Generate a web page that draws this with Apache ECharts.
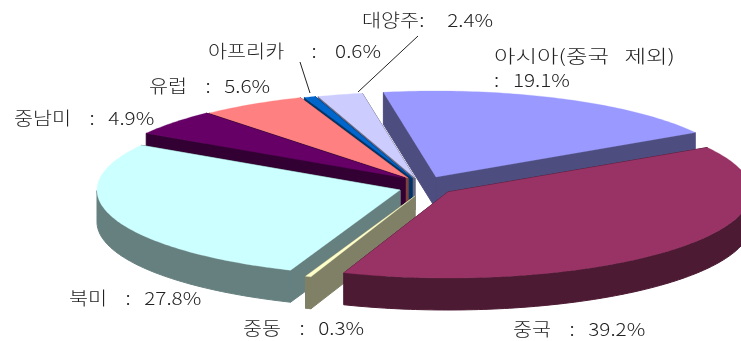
<!DOCTYPE html>
<html><head><meta charset="utf-8">
<style>html,body{margin:0;padding:0;background:#fff}#c{width:741px;height:341px}</style>
<script src="https://cdn.jsdelivr.net/npm/echarts@6/dist/echarts.min.js"></script>
</head><body><div id="c"></div>
<script>
const regions = ['아시아(중국 제외)','중국','중동','북미','중남미','유럽','아프리카','대양주'];
const shares  = [19.1,39.2,0.3,27.8,4.9,5.6,0.6,2.4];
const labelLines = [
  ['아시아(중국 제외)',': 19.1%'],['중국 : 39.2%'],['중동 : 0.3%'],['북미 : 27.8%'],
  ['중남미 : 4.9%'],['유럽 : 5.6%'],['아프리카 : 0.6%'],['대양주: 2.4%']
];
const topColors  = ['#9999FF','#993366','#FFFFCC','#CCFFFF','#660066','#FF8080','#0066CC','#CCCCFF'];
const sideColors = ['#4D4D80','#4D1A33','#808066','#668080','#330033','#804040','#003366','#666680'];
// layout (pixels): apex of every exploded slice, label anchors, leaders
const apex = [[436,177],[448,192],[415,196],[400,190],[405,178],[408,178],[412,178],[415,178]];
const labelPos = [[494,56],[513,329],[243,328],[69,298],[14,118],[149,86],[208,51],[362,20]];
const leaders = {6:[[300,62],[310,93]],7:[[418,36],[358,92]]};
const drawOrder = [7,6,5,4,0,3,2,1];
const RX=303, RY=86, DEPTH=32, START=-10, TEXT_STRETCH=1.15, HEAD_STRETCH=1.3;

const total = shares.reduce((a,b)=>a+b,0);
const starts=[]; let acc=START;
shares.forEach(s=>{starts.push(acc); acc+=s/total*360;});
function pt(i,deg){const r=deg*Math.PI/180;return [apex[i][0]+RX*Math.sin(r),apex[i][1]-RY*Math.cos(r)];}
const down=p=>[p[0],p[1]+DEPTH];
function poly(points,fill){return {type:'polygon',shape:{points},style:{fill,stroke:fill,lineWidth:1}};}
function spaced(t){
  if(t.indexOf('아프리카')===0) return t.replace(' : ','      :    ');
  if(t.indexOf(' : ')>=0) return t.replace(' : ','    :   ');
  if(t.indexOf(': ')===0) return t.replace(': ',':   ');
  if(t.indexOf(': ')>0) return t.replace(': ',':     ');
  return t.replace(' 제외','   제외');
}

function renderItem(params,api){
  const i=api.value(0), a0=starts[i], a1=a0+api.value(1)/total*360;
  const arc=[]; const n=Math.max(2,Math.ceil((a1-a0)));
  for(let k=0;k<=n;k++) arc.push(a0+(a1-a0)*k/n);
  const arcPts=arc.map(a=>pt(i,a));
  const A=apex[i], ch=[];
  [arcPts[0],arcPts[arcPts.length-1]].forEach(p=>ch.push(poly([A,p,down(p),down(A)],sideColors[i])));
  const front=arc.filter(a=>{const m=((a%360)+360)%360;return m>=90&&m<=270;}).map(a=>pt(i,a));
  if(front.length>1) ch.push(poly(front.concat(front.slice().reverse().map(down)),sideColors[i]));
  const top=poly([A].concat(arcPts),topColors[i]); top.style.lineWidth=0.3; ch.push(top);
  if(leaders[i]) ch.push({type:'line',shape:{x1:leaders[i][0][0],y1:leaders[i][0][1],x2:leaders[i][1][0],y2:leaders[i][1][1]},style:{stroke:'#222',lineWidth:1}});
  labelLines[i].forEach((t,j)=>{
    const x=labelPos[i][0], y=labelPos[i][1]+j*24;
    const sx=t.indexOf('제외')>=0?HEAD_STRETCH:TEXT_STRETCH;
    ch.push({type:'text',x:x,y:y,scaleX:sx,scaleY:1,style:{text:spaced(t),x:0,y:0,
      fill:'#222',font:'300 18px "Noto Sans CJK KR"',textAlign:'left',textVerticalAlign:'middle'}});
  });
  return {type:'group',children:ch};
}
const chart=echarts.init(document.getElementById('c'),null,{renderer:'canvas'});
chart.setOption({animation:false,backgroundColor:'#fff',
  series:[{type:'custom',coordinateSystem:'none',silent:true,renderItem,
    data:drawOrder.map(i=>({name:regions[i],value:[i,shares[i]]}))}]});
</script></body></html>
